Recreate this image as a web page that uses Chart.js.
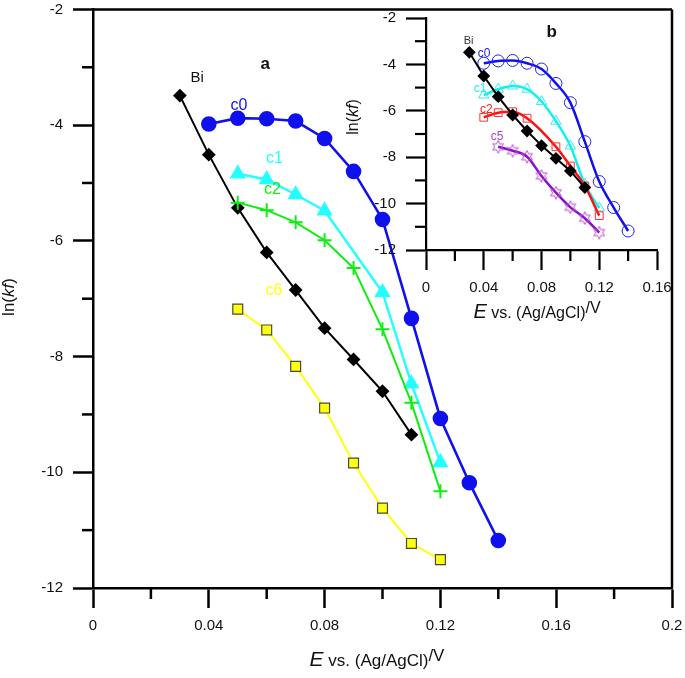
<!DOCTYPE html>
<html>
<head>
<meta charset="utf-8">
<script src="https://cdn.jsdelivr.net/npm/chart.js@4.4.0/dist/chart.umd.min.js"></script>
<style>
html, body { margin: 0; padding: 0; background: #fff; }
#wrap { position: relative; width: 685px; height: 678px; }
#mainChart { position: absolute; left: 0; top: 0; }
#insetChart { position: absolute; left: 340px; top: 0; }
</style>
</head>
<body>
<div id="wrap">
  <canvas id="mainChart" width="685" height="678"></canvas>
  <canvas id="insetChart" width="345" height="330"></canvas>
</div>
<script>
var FONT = "'Liberation Sans', Arial, sans-serif";

// ---- panel a (main) ----
var eBi = [0.03, 0.04, 0.05, 0.06, 0.07, 0.08, 0.09, 0.10, 0.11];
var lnBi = [-3.49, -4.51, -5.43, -6.20, -6.85, -7.51, -8.05, -8.60, -9.35];
var eC0 = [0.04, 0.05, 0.06, 0.07, 0.08, 0.09, 0.10, 0.11, 0.12, 0.13, 0.14];
var lnC0 = [-3.98, -3.88, -3.89, -3.93, -4.23, -4.80, -5.63, -7.34, -9.07, -10.18, -11.18];
var eC1 = [0.05, 0.06, 0.07, 0.08, 0.10, 0.11, 0.12];
var lnC1 = [-4.84, -4.94, -5.20, -5.48, -6.89, -8.47, -9.83];
var eC2 = [0.05, 0.06, 0.07, 0.08, 0.09, 0.10, 0.11, 0.12];
var lnC2 = [-5.34, -5.47, -5.68, -5.99, -6.47, -7.53, -8.80, -10.33];
var eC6 = [0.05, 0.06, 0.07, 0.08, 0.09, 0.10, 0.11, 0.12];
var lnC6 = [-7.18, -7.54, -8.17, -8.89, -9.84, -10.62, -11.23, -11.51];

// ---- panel b (inset) ----
var eBiB = [0.03, 0.04, 0.05, 0.06, 0.07, 0.08, 0.09, 0.10, 0.11];
var lnBiB = [-3.48, -4.50, -5.39, -6.18, -6.87, -7.50, -8.05, -8.59, -9.31];
var eC0B = [0.04, 0.05, 0.06, 0.07, 0.08, 0.09, 0.10, 0.11, 0.12, 0.13, 0.14];
var lnC0B = [-3.95, -3.85, -3.83, -3.95, -4.20, -4.82, -5.65, -7.33, -9.05, -10.17, -11.18];
var eC1B = [0.04, 0.05, 0.06, 0.07, 0.08, 0.09, 0.10, 0.11, 0.12];
var lnC1B = [-5.32, -5.07, -4.93, -5.07, -5.60, -6.45, -7.52, -9.17, -10.19];
var eC2B = [0.04, 0.05, 0.06, 0.07, 0.09, 0.10, 0.11, 0.12];
var lnC2B = [-6.28, -6.08, -6.04, -6.32, -7.55, -8.38, -9.24, -10.52];
var eC5B = [0.05, 0.06, 0.07, 0.08, 0.09, 0.10, 0.11, 0.12];
var lnC5B = [-7.55, -7.72, -7.98, -8.81, -9.53, -10.16, -10.63, -11.25];

// ticks
var mainXTicks = [0, 0.04, 0.08, 0.12, 0.16, 0.2];
var mainXMinor = [0.02, 0.06, 0.10, 0.14, 0.18];
var mainYTicks = [-12, -10, -8, -6, -4, -2];
var mainYMinor = [-11, -9, -7, -5, -3];
var insetXTicks = [0, 0.04, 0.08, 0.12, 0.16];
var insetXMinor = [0.02, 0.06, 0.10, 0.14];
var insetYTicks = [-12, -10, -8, -6, -4, -2];
var insetYMinor = [-11, -9, -7, -5, -3];

function pts(xs, ys) {
    return xs.map(function (x, i) { return { x: x, y: ys[i] }; });
}

function makeStar(color) {
    var c = document.createElement('canvas');
    c.width = 14; c.height = 14;
    var g = c.getContext('2d');
    g.strokeStyle = color;
    g.lineWidth = 1;
    g.beginPath();
    for (var i = 0; i < 12; i++) {
        var r = i % 2 ? 3.3 : 6.3;
        var a = -Math.PI / 2 + i * Math.PI / 6;
        var px = 7 + r * Math.cos(a), py = 7 + r * Math.sin(a);
        if (i == 0) g.moveTo(px, py); else g.lineTo(px, py);
    }
    g.closePath();
    g.stroke();
    return c;
}

// minor ticks + optional top/right frame
var axisExtras = {
    id: 'axisExtras',
    afterDraw: function (chart, args, opts) {
        var ctx = chart.ctx, a = chart.chartArea;
        var xs = chart.scales.x, ys = chart.scales.y;
        ctx.save();
        ctx.strokeStyle = '#000';
        ctx.lineWidth = opts.width;
        ctx.lineCap = 'butt';
        opts.xMinor.forEach(function (v) {
            var p = xs.getPixelForValue(v);
            ctx.beginPath(); ctx.moveTo(p, a.bottom); ctx.lineTo(p, a.bottom + opts.len); ctx.stroke();
        });
        opts.yMinor.forEach(function (v) {
            var p = ys.getPixelForValue(v);
            ctx.beginPath(); ctx.moveTo(a.left, p); ctx.lineTo(a.left - opts.len, p); ctx.stroke();
        });
        if (opts.frame) {
            ctx.beginPath();
            ctx.moveTo(a.left, a.top); ctx.lineTo(a.right, a.top);
            ctx.moveTo(a.right, a.top); ctx.lineTo(a.right, a.bottom);
            ctx.stroke();
        }
        ctx.restore();
    }
};

function drawRuns(ctx, runs, cx, cy) {
    var total = 0;
    runs.forEach(function (r) { ctx.font = r.font; r.w = ctx.measureText(r.t).width; total += r.w; });
    var x = cx - total / 2;
    runs.forEach(function (r) {
        ctx.font = r.font;
        ctx.fillText(r.t, x, cy + (r.dy || 0));
        x += r.w;
    });
}

// labels in data coordinates + axis titles
var texts = {
    id: 'texts',
    afterDraw: function (chart, args, opts) {
        var ctx = chart.ctx, xs = chart.scales.x, ys = chart.scales.y;
        ctx.save();
        ctx.textAlign = 'center';
        ctx.textBaseline = 'middle';
        opts.items.forEach(function (it) {
            ctx.fillStyle = it.color;
            ctx.font = it.font;
            ctx.fillText(it.text, xs.getPixelForValue(it.x), ys.getPixelForValue(it.y));
        });
        ctx.textAlign = 'left';
        ctx.textBaseline = 'alphabetic';
        ctx.fillStyle = '#111';
        var s = opts.size;
        drawRuns(ctx, [
            { t: 'E', font: 'italic ' + (s + 4) + 'px ' + FONT },
            { t: ' vs. (Ag/AgCl)', font: s + 'px ' + FONT },
            { t: '/V', font: s + 'px ' + FONT, dy: -5 }
        ], opts.xTitle[0], opts.xTitle[1]);
        ctx.translate(opts.yTitle[0], opts.yTitle[1]);
        ctx.rotate(-Math.PI / 2);
        ctx.textBaseline = 'middle';
        drawRuns(ctx, [
            { t: 'ln(', font: s + 'px ' + FONT },
            { t: 'kf', font: 'italic ' + s + 'px ' + FONT },
            { t: ')', font: s + 'px ' + FONT }
        ], 0, 0);
        ctx.restore();
    }
};

function fmt(v) { return String(+v.toFixed(2)); }

// tick label overhang must not push the plot area in
function noPad(s) { s.paddingTop = 0; s.paddingBottom = 0; s.paddingLeft = 0; s.paddingRight = 0; }

function axes(xMin, xMax, yMin, yMax, xTicks, yTicks, yWidth, xHeight, lw) {
    var tickFont = { family: FONT, size: 15, lineHeight: 1 };
    return {
        x: {
            type: 'linear', min: xMin, max: xMax,
            afterBuildTicks: function (s) { s.ticks = xTicks.map(function (v) { return { value: v }; }); },
            ticks: { callback: fmt, font: tickFont, color: '#111', padding: 10, maxRotation: 0, autoSkip: false },
            grid: { drawOnChartArea: false, tickLength: 20, tickWidth: lw, tickColor: '#000' },
            border: { color: '#000', width: lw },
            afterFit: function (s) { s.height = xHeight; noPad(s); }
        },
        y: {
            type: 'linear', min: yMin, max: yMax,
            afterBuildTicks: function (s) { s.ticks = yTicks.map(function (v) { return { value: v }; }); },
            ticks: { callback: fmt, font: tickFont, color: '#111', padding: 10, autoSkip: false },
            grid: { drawOnChartArea: false, tickLength: 20, tickWidth: lw, tickColor: '#000' },
            border: { color: '#000', width: lw },
            afterFit: function (s) { s.width = yWidth; noPad(s); }
        }
    };
}

var mainChart = new Chart(document.getElementById('mainChart'), {
    type: 'scatter',
    data: {
        datasets: [
            { label: 'c2', data: pts(eC2, lnC2), showLine: true, borderColor: '#10ee10', borderWidth: 2,
              pointStyle: 'cross', pointRadius: 7, pointBorderWidth: 2, pointBorderColor: '#10ee10' },
            { label: 'c0', data: pts(eC0, lnC0), showLine: true, borderColor: '#1010ee', borderWidth: 2.6,
              pointStyle: 'circle', pointRadius: 6.5, backgroundColor: '#1010ee', pointBorderColor: '#1010ee' },
            { label: 'c1', data: pts(eC1, lnC1), showLine: true, borderColor: '#22ffff', borderWidth: 2.4,
              pointStyle: 'triangle', pointRadius: 7, backgroundColor: '#22ffff', pointBorderColor: '#22ffff' },
            { label: 'c6', data: pts(eC6, lnC6), showLine: true, borderColor: '#ffff10', borderWidth: 2,
              pointStyle: 'rect', pointRadius: 7, backgroundColor: '#ffff10', pointBorderColor: '#4a4a30', pointBorderWidth: 1.2 },
            { label: 'Bi', data: pts(eBi, lnBi), showLine: true, borderColor: '#000', borderWidth: 2,
              pointStyle: 'rectRot', pointRadius: 5.5, backgroundColor: '#000', pointBorderColor: '#000' }
        ]
    },
    options: {
        responsive: false,
        animation: false,
        layout: { padding: { left: 0, right: 13, top: 8, bottom: 0 } },
        plugins: {
            legend: { display: false },
            tooltip: { enabled: false },
            axisExtras: { xMinor: mainXMinor, yMinor: mainYMinor, len: 11, width: 2.5, frame: true },
            texts: {
                size: 17,
                xTitle: [377, 666],
                yTitle: [9, 297],
                items: [
                    { text: 'a', x: 0.0595, y: -2.95, color: '#111', font: 'bold 17px ' + FONT },
                    { text: 'Bi', x: 0.036, y: -3.19, color: '#111', font: '15px ' + FONT },
                    { text: 'c0', x: 0.0504, y: -3.67, color: '#1010ee', font: '16px ' + FONT },
                    { text: 'c1', x: 0.0627, y: -4.57, color: '#22ffff', font: '16px ' + FONT },
                    { text: 'c2', x: 0.062, y: -5.12, color: '#10ee10', font: '16px ' + FONT },
                    { text: 'c6', x: 0.0625, y: -6.86, color: '#ffff10', font: '16px ' + FONT }
                ]
            }
        },
        scales: axes(0, 0.2, -12, -2, mainXTicks, mainYTicks, 93, 90, 2.5)
    },
    plugins: [axisExtras, texts]
});

var starImg = makeStar('#c050d0');

var insetChart = new Chart(document.getElementById('insetChart'), {
    type: 'scatter',
    data: {
        datasets: [
            { label: 'Bi', data: pts(eBiB, lnBiB), showLine: true, borderColor: '#000', borderWidth: 2,
              pointStyle: 'rectRot', pointRadius: 5, backgroundColor: '#000', pointBorderColor: '#000' },
            { label: 'c2', data: pts(eC2B, lnC2B), showLine: true, borderColor: '#ff1010', borderWidth: 2.5,
              cubicInterpolationMode: 'monotone', pointStyle: 'rect', pointRadius: 5.5, pointBorderWidth: 1,
              backgroundColor: 'rgba(0,0,0,0)', pointBorderColor: '#ff3030' },
            { label: 'c0', data: pts(eC0B, lnC0B), showLine: true, borderColor: '#1010ee', borderWidth: 2.5,
              cubicInterpolationMode: 'monotone', pointStyle: 'circle', pointRadius: 6, pointBorderWidth: 1,
              backgroundColor: 'rgba(0,0,0,0)', pointBorderColor: '#2020f0' },
            { label: 'c1', data: pts(eC1B, lnC1B), showLine: true, borderColor: '#10f0f0', borderWidth: 2.5,
              cubicInterpolationMode: 'monotone', pointStyle: 'triangle', pointRadius: 6, pointBorderWidth: 1,
              backgroundColor: 'rgba(0,0,0,0)', pointBorderColor: '#30f0f0' },
            { label: 'c5', data: pts(eC5B, lnC5B), showLine: true, borderColor: '#8a10c8', borderWidth: 2.5,
              cubicInterpolationMode: 'monotone', pointStyle: starImg, pointRadius: 6 }
        ]
    },
    options: {
        responsive: false,
        animation: false,
        layout: { padding: { left: 0, right: 28, top: 18, bottom: 0 } },
        plugins: {
            legend: { display: false },
            tooltip: { enabled: false },
            axisExtras: { xMinor: insetXMinor, yMinor: insetYMinor, len: 11, width: 2.2, frame: false },
            texts: {
                size: 16,
                xTitle: [197, 318],
                yTitle: [14, 117],
                items: [
                    { text: 'b', x: 0.0871, y: -2.63, color: '#111', font: 'bold 17px ' + FONT },
                    { text: 'Bi', x: 0.0295, y: -2.99, color: '#333', font: '11px ' + FONT },
                    { text: 'c0', x: 0.0402, y: -3.52, color: '#2020f0', font: '12px ' + FONT },
                    { text: 'c1', x: 0.0374, y: -5.03, color: '#20f0f0', font: '12px ' + FONT },
                    { text: 'c2', x: 0.0418, y: -5.94, color: '#ff2020', font: '12px ' + FONT },
                    { text: 'c5', x: 0.0492, y: -7.12, color: '#b040c8', font: '12px ' + FONT }
                ]
            }
        },
        scales: axes(0, 0.16, -12, -2, insetXTicks, insetYTicks, 86, 80, 2.2)
    },
    plugins: [axisExtras, texts]
});
</script>
</body>
</html>
